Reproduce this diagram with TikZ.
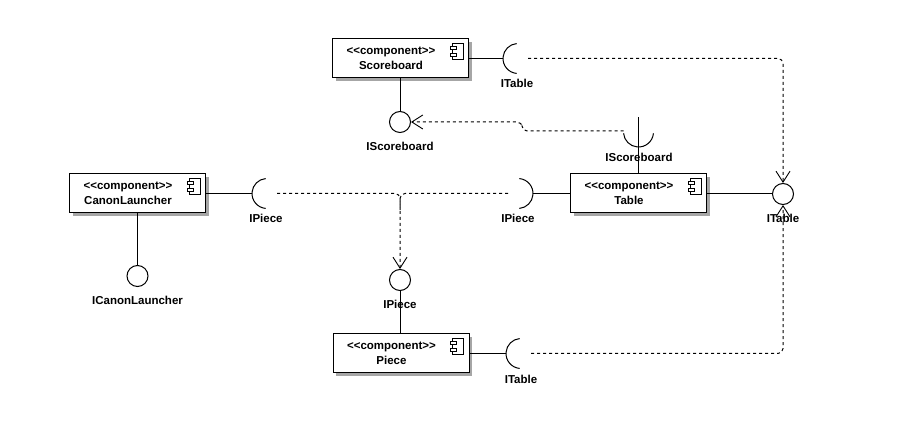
\documentclass[tikz,border=0pt]{standalone}
\usepackage{fontspec}
\setmainfont{Liberation Sans}
\usetikzlibrary{arrows.meta,shadows}

\tikzset{
  comp/.style={draw, line width=1pt, fill=white, minimum width=136pt, minimum height=39pt,
    inner sep=0pt, drop shadow={shadow xshift=3pt, shadow yshift=-3pt, fill=black!35, opacity=1}},
  ctext/.style={font=\bfseries\fontsize{11.5}{13}\selectfont, inner sep=0pt},
  lbl/.style={font=\bfseries\fontsize{11.5}{13}\selectfont, inner sep=0pt},
  lolli/.style={draw, circle, line width=1pt, minimum size=21pt, inner sep=0pt, fill=white},
  wire/.style={line width=1pt},
  sockarc/.style={line width=1pt},
  dep/.style={line width=1pt, dash pattern=on 3pt off 3pt, rounded corners=5pt,
    -{Straight Barb[length=11pt,width=14pt,line width=0.9pt]}},
  depplain/.style={line width=1pt, dash pattern=on 3pt off 3pt, rounded corners=5pt},
  icon/.style={line width=0.8pt, fill=white},
}

\begin{document}
\begin{tikzpicture}[x=1pt, y=-1pt]
  \useasboundingbox (0,0) rectangle (906,430);

  % components
  \node[comp] (sb) at (400.5,58.5) {};
  \node[comp] (tb) at (638.5,193.5) {};
  \node[comp] (cl) at (137.5,193.5) {};
  \node[comp] (pc) at (401,353.5) {};

  \foreach \n/\t in {sb/Scoreboard, tb/Table, cl/CanonLauncher, pc/Piece} {
    \node[ctext] (\n-st) at ([shift={(-9.5,-7)}]\n.center) {{<}{<}component{>}{>}};
    \node[ctext] (\n-nm) at ([shift={(-9.5,7)}]\n.center) {\t};
    % component glyph
    \draw[icon] ([shift={(-17,5)}]\n.north east) rectangle ([shift={(-6,21)}]\n.north east);
    \draw[icon] ([shift={(-19,8)}]\n.north east) rectangle ([shift={(-13,11)}]\n.north east);
    \draw[icon] ([shift={(-19,15)}]\n.north east) rectangle ([shift={(-13,18)}]\n.north east);
  }

  % provided interfaces (lollipops)
  \node[lolli] (iscore) at (400,122) {};
  \node[lolli] (itable) at (783,194) {};
  \node[lolli] (icanon) at (137.5,276) {};
  \node[lolli] (ipiece) at (400,280) {};

  \node[lbl] (iscore-l) at (400,146) {IScoreboard};
  \node[lbl] (itable-l) at (783,218) {ITable};
  \node[lbl] (icanon-l) at (137.5,300) {ICanonLauncher};
  \node[lbl] (ipiece-l) at (400,304) {IPiece};

  \draw[wire] (sb.south -| iscore) -- (iscore.north);
  \draw[wire] (tb.east) -- (tb.east -| itable.west);
  \draw[wire] (cl.south) -- (icanon.north);
  \draw[wire] (ipiece.south) -- (pc.north -| ipiece);

  % required interfaces (sockets)
  \coordinate (s1) at (518,58.5);    % Scoreboard -> ITable
  \coordinate (s2) at (638.5,132);   % Table -> IScoreboard
  \coordinate (s3) at (267,193.5);   % CanonLauncher -> IPiece
  \coordinate (s4) at (518,193.5);   % Table -> IPiece
  \coordinate (s5) at (521,353.5);   % Piece -> ITable

  \draw[sockarc] ([shift={(95:15)}]s1) arc[start angle=95, end angle=265, radius=15];
  \draw[sockarc] ([shift={(5:15)}]s2) arc[start angle=5, end angle=175, radius=15];
  \draw[sockarc] ([shift={(95:15)}]s3) arc[start angle=95, end angle=265, radius=15];
  \draw[sockarc] ([shift={(-85:15)}]s4) arc[start angle=-85, end angle=85, radius=15];
  \draw[sockarc] ([shift={(95:15)}]s5) arc[start angle=95, end angle=265, radius=15];

  \node[lbl] (s1-l) at (517,83) {ITable};
  \node[lbl] (s2-l) at (639,157) {IScoreboard};
  \node[lbl] (s3-l) at (266,218.5) {IPiece};
  \node[lbl] (s4-l) at (518,218.5) {IPiece};
  \node[lbl] (s5-l) at (521,379) {ITable};

  \draw[wire] (sb.east) -- ([xshift=-15]s1);
  \draw[wire] (tb.north) -- ([yshift=15]s2);
  \draw[wire] (cl.east) -- ([xshift=-15]s3);
  \draw[wire] (tb.west) -- ([xshift=15]s4);
  \draw[wire] (pc.east) -- ([xshift=-15]s5);

  % dependencies
  \coordinate (c1) at (783,58.5);
  \coordinate (c5) at (783,353.5);
  \coordinate (j) at (400,193.5);
  \draw[dep] ([xshift=10]s1) -- (c1) -- (itable.north);
  \draw[dep] ([xshift=10]s5) -- (c5) -- (itable.south);
  \draw[dep] ([shift={(-15,-1)}]s2) -- (522,131) -- (522,122) -- (iscore.east);
  \draw[dep] ([xshift=10]s3) -- (j) -- (ipiece.north);
  \draw[depplain] ([xshift=-10]s4) -- (j) -- (400,210);
\end{tikzpicture}
\end{document}
